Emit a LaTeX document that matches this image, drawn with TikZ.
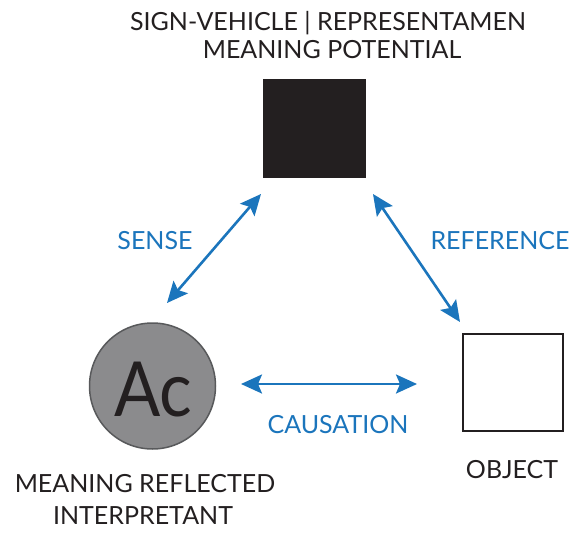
\documentclass[tikz,border=0pt]{standalone}
\usepackage{fontspec}
\setmainfont{Lato}
\usetikzlibrary{arrows.meta}
\definecolor{arrowblue}{HTML}{1B75BC}
\definecolor{inkdark}{HTML}{231F20}
\definecolor{circgray}{HTML}{8B8B8D}
\definecolor{circedge}{HTML}{58595B}
\begin{document}
\begin{tikzpicture}[x=1pt,y=-1pt,
  lbl/.style={font=\fontsize{25}{28}\selectfont, text=inkdark, inner sep=0pt, align=center},
  bluelbl/.style={font=\fontsize{25}{28}\selectfont, text=arrowblue, inner sep=0pt},
  link/.style={draw=arrowblue, line width=2.6pt,
    {Stealth[length=21pt,width=19pt,inset=4pt]}-{Stealth[length=21pt,width=19pt,inset=4pt]}}]
\useasboundingbox (0,0) rectangle (571,533);
% sign vehicle
\node[fill=inkdark, minimum width=103pt, minimum height=99pt, inner sep=0pt] (sign) at (314.5,128.5) {};
% object
\node[draw=inkdark, line width=2pt, fill=white, minimum width=100pt, minimum height=97pt, inner sep=0pt] (obj) at (513,382.5) {};
% interpretant
\node[circle, fill=circgray, draw=circedge, line width=1.5pt, minimum size=126pt, inner sep=0pt] (interp) at (152.5,386) {};
\node[font=\fontsize{76}{80}\selectfont, text=inkdark, inner sep=0pt] (ac) at (153.5,390) {\scalebox{0.9}[1]{Ac}};
% labels
\node[lbl] (signtxt) at (328,23) {SIGN-VEHICLE | REPRESENTAMEN};
\node[lbl] (signtxt2) at (332,50) {MEANING POTENTIAL};
\node[lbl] (objtxt) at (512,470) {OBJECT};
\node[lbl] (interptxt) at (145,484) {MEANING REFLECTED};
\node[lbl] (interptxt2) at (143,516) {INTERPRETANT};
% connector endpoints
\coordinate (s1) at (167,303);
\coordinate (s2) at (261,194);
\coordinate (r1) at (373,194);
\coordinate (r2) at (460,322);
\coordinate (c1) at (241,384);
\coordinate (c2) at (417,384);
\draw[link] (s1) -- (s2);
\draw[link] (r1) -- (r2);
\draw[link] (c1) -- (c2);
\node[bluelbl] (sense) at (155,241) {SENSE};
\node[bluelbl] (ref) at (500,241) {REFERENCE};
\node[bluelbl] (caus) at (338,425) {CAUSATION};
\end{tikzpicture}
\end{document}
